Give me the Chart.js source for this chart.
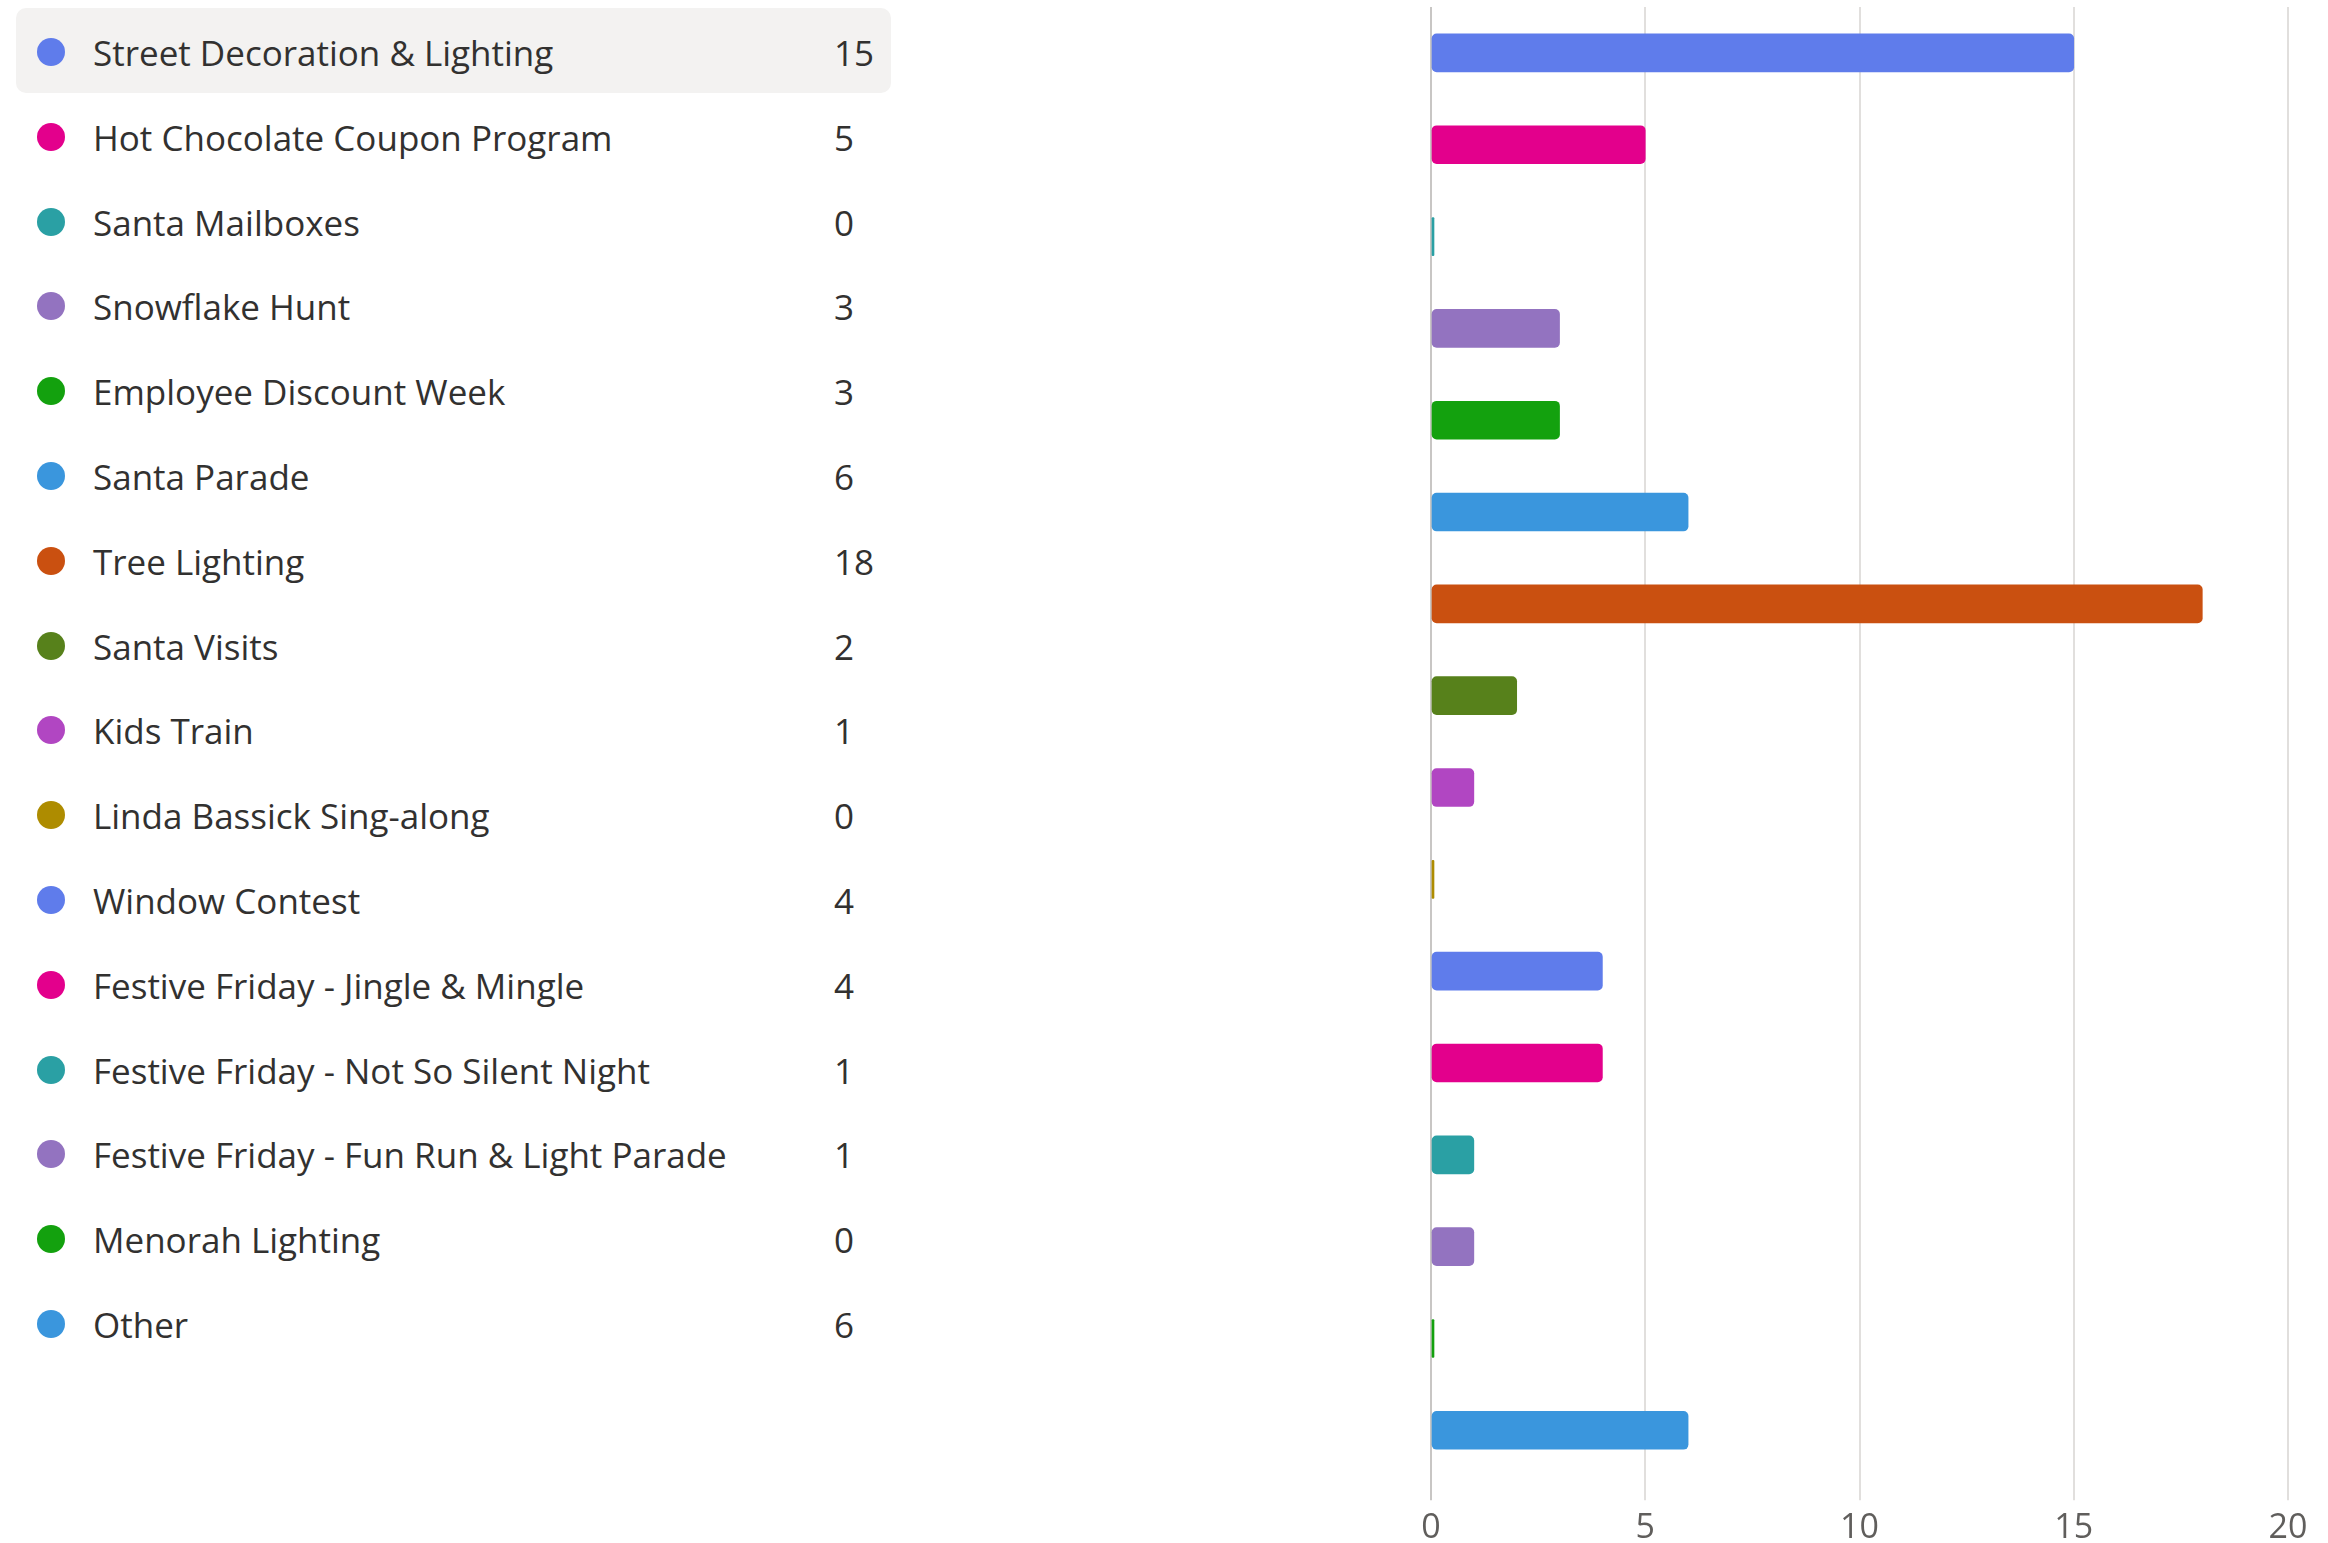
<!DOCTYPE html>
<html>
<head>
<meta charset="utf-8">
<script src="https://cdn.jsdelivr.net/npm/chart.js@4/dist/chart.umd.min.js"></script>
<style>
  html, body { margin: 0; padding: 0; background: #fff; width: 2328px; height: 1543px; overflow: hidden; }
  body { font-family: "Open Sans", "Noto Sans", sans-serif; color: #323130; }
  #legend { position: absolute; left: 16px; top: 8px; width: 875px; }
  .row { position: relative; height: 84.8px; border-radius: 10px; }
  .row.active { background: #f3f2f1; }
  .dot { position: absolute; left: 21px; top: 30px; width: 28px; height: 28px; border-radius: 50%; }
  .name { position: absolute; left: 77px; top: 3px; line-height: 84.8px; font-size: 35px; white-space: nowrap; }
  .count { position: absolute; left: 818px; top: 3px; line-height: 84.8px; font-size: 35px; }
  #chartBox { position: absolute; left: 1380px; top: 0; width: 948px; height: 1557px; }
</style>
</head>
<body>
<div id="legend"></div>
<div id="chartBox"><canvas id="chart"></canvas></div>
<script>
// Events and how many responses each one received
const events = [
  'Street Decoration & Lighting',
  'Hot Chocolate Coupon Program',
  'Santa Mailboxes',
  'Snowflake Hunt',
  'Employee Discount Week',
  'Santa Parade',
  'Tree Lighting',
  'Santa Visits',
  'Kids Train',
  'Linda Bassick Sing-along',
  'Window Contest',
  'Festive Friday - Jingle & Mingle',
  'Festive Friday - Not So Silent Night',
  'Festive Friday - Fun Run & Light Parade',
  'Menorah Lighting',
  'Other'
];
const responses = [15, 5, 0, 3, 3, 6, 18, 2, 1, 0, 4, 4, 1, 1, 0, 6];
const axisTicks = [0, 5, 10, 15, 20];

// Ten-colour palette, repeated down the list
const palette = ['#5f7ceb', '#e3008c', '#2aa0a4', '#9373c0', '#13a10e',
                 '#3a96dd', '#ca5010', '#57811b', '#b146c2', '#ae8c00'];
const colorAt = i => palette[i % palette.length];

// Option list with counts on the left
const legend = document.getElementById('legend');
events.forEach((name, i) => {
  const row = document.createElement('div');
  row.className = 'row' + (i === 0 ? ' active' : '');
  const dot = document.createElement('span');
  dot.className = 'dot';
  dot.style.background = colorAt(i);
  const label = document.createElement('span');
  label.className = 'name';
  label.textContent = name;
  const count = document.createElement('span');
  count.className = 'count';
  count.textContent = responses[i];
  row.append(dot, label, count);
  legend.appendChild(row);
});

const FONT = '"Open Sans", "Noto Sans", sans-serif';

new Chart(document.getElementById('chart'), {
  type: 'bar',
  data: {
    labels: events,
    datasets: [{
      data: responses,
      backgroundColor: events.map((_, i) => colorAt(i)),
      borderWidth: 0,
      borderRadius: 5,
      borderSkipped: false,
      barThickness: 38,
      minBarLength: 3
    }]
  },
  options: {
    indexAxis: 'y',
    responsive: true,
    maintainAspectRatio: false,
    devicePixelRatio: 1,
    animation: false,
    layout: { padding: { left: 51, right: 40, top: 7, bottom: 0 } },
    plugins: { legend: { display: false }, tooltip: { enabled: false } },
    scales: {
      x: {
        min: axisTicks[0],
        max: axisTicks[axisTicks.length - 1],
        afterBuildTicks: scale => { scale.ticks = axisTicks.map(v => ({ value: v })); },
        ticks: { color: '#605e5c', font: { family: FONT, size: 34 }, padding: 8, maxRotation: 0 },
        grid: {
          color: c => (c.tick && c.tick.value === 0) ? '#c8c6c4' : '#e1dfdd',
          lineWidth: 2,
          tickLength: 24,
          drawTicks: true
        },
        border: { display: false }
      },
      y: { display: false }
    }
  }
});
</script>
</body>
</html>
